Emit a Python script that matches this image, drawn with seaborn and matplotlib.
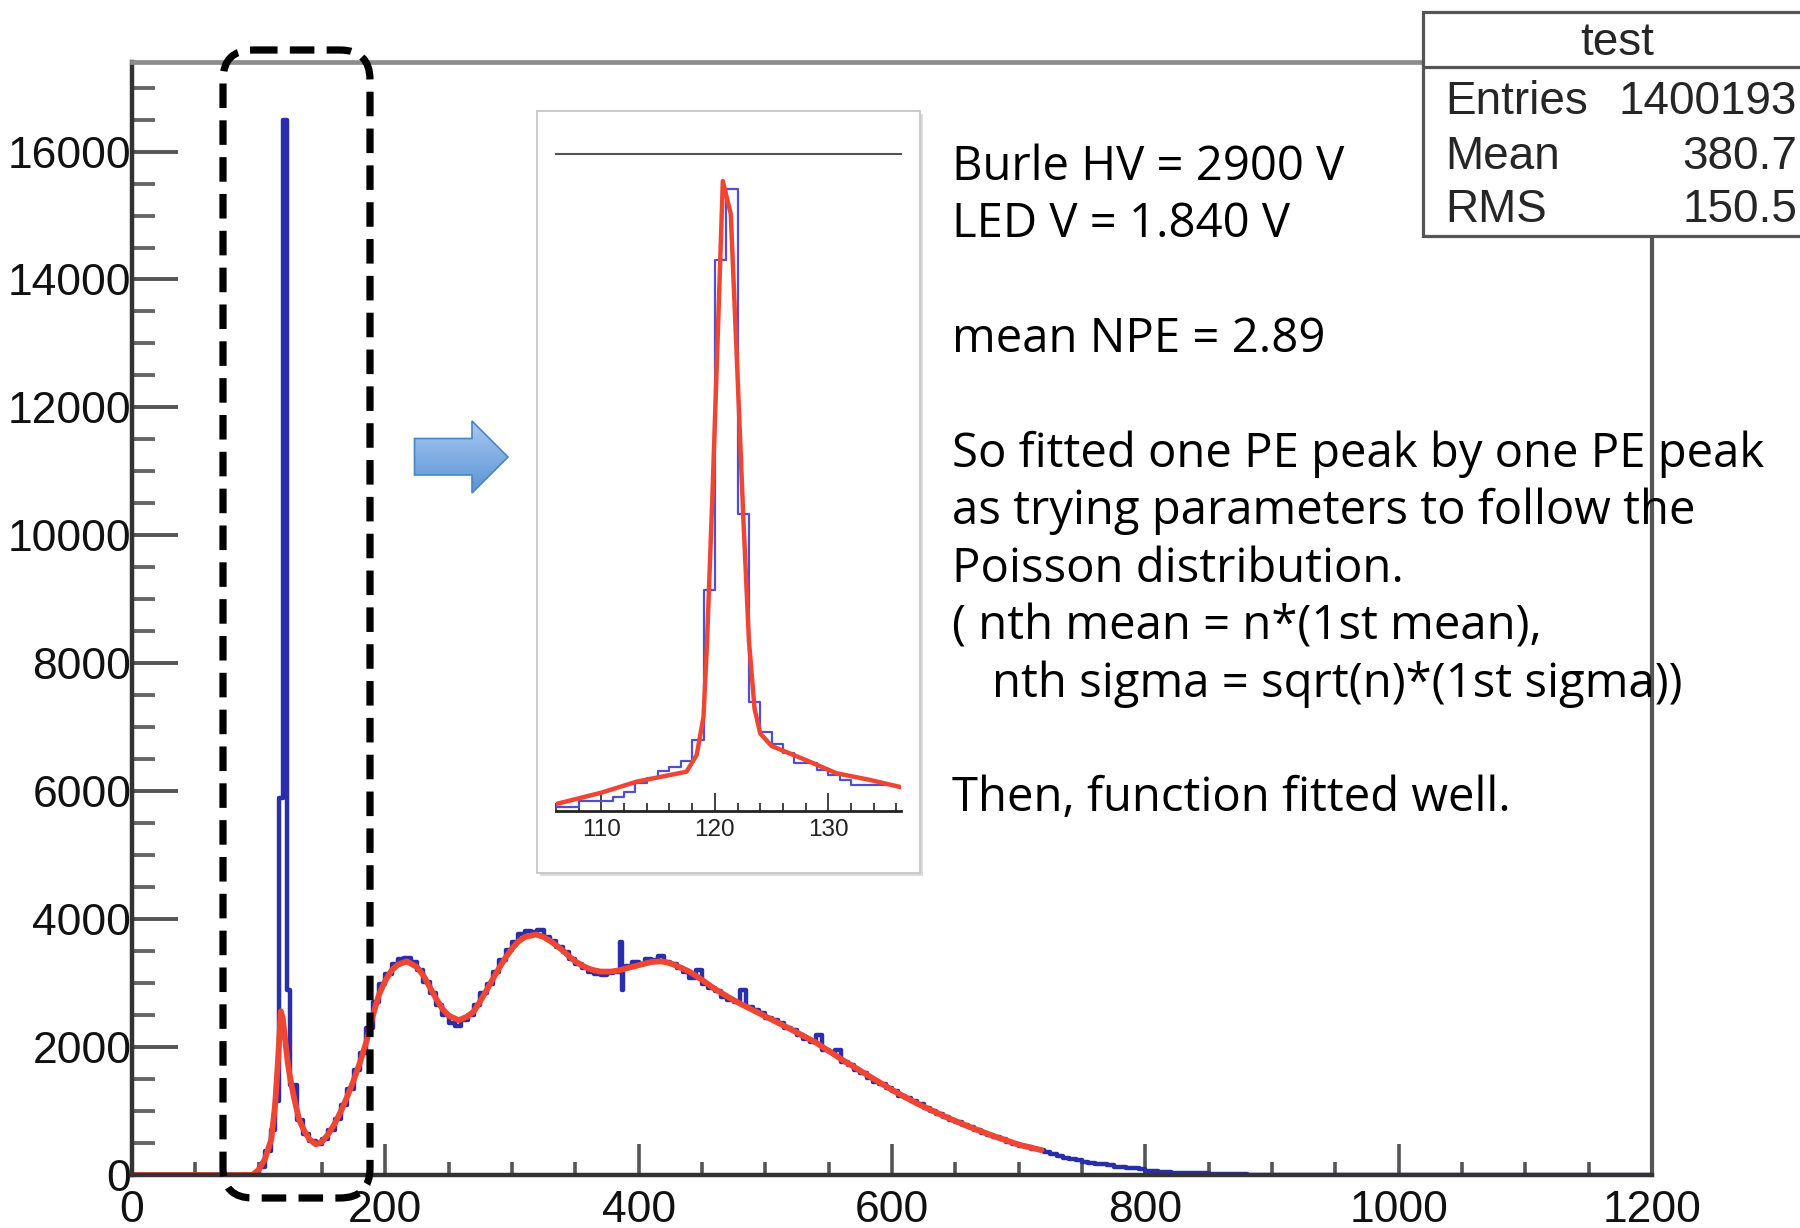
import numpy as np
import pandas as pd
import matplotlib
matplotlib.use("Agg")
import matplotlib.pyplot as plt
import seaborn as sns
from matplotlib.patches import FancyBboxPatch, Rectangle, Polygon
from matplotlib.ticker import MultipleLocator, FixedLocator
from matplotlib.colors import LinearSegmentedColormap

# ---------------- data ----------------
# main histogram: explicit edges near the spike / glitch, 5-wide bins elsewhere
blue_head_edges = [0, 100, 105, 110, 113, 116, 119, 122, 125]
blue_head_counts = [0, 120, 380, 700, 1150, 5900, 16500, 2900]

blue_seg1_start = 125  # 5-wide bins 125 .. 380
blue_seg1_counts = [1400, 860, 640, 530, 480, 560, 700, 880, 1100, 1340,
                    1640, 1900, 2300, 2700, 2980, 3150, 3300, 3380, 3400, 3330,
                    3200, 3010, 2850, 2660, 2500, 2380, 2330, 2420, 2500, 2660,
                    2840, 2980, 3180, 3360, 3520, 3640, 3760, 3820, 3800, 3830,
                    3720, 3660, 3560, 3480, 3370, 3300, 3240, 3180, 3140, 3130,
                    3160]

blue_glitch_edges = [380, 385, 386.5, 388, 390]
blue_glitch_counts = [3170, 3650, 2900, 3250]

blue_seg2_start = 390  # 5-wide bins 390 .. 900
blue_seg2_counts = [3260, 3330, 3300, 3380, 3360, 3420, 3330, 3300, 3230, 3180,
                    3080, 3200, 2990, 2920, 2880, 2780, 2740, 2700, 2900, 2620,
                    2580, 2540, 2460, 2420, 2370, 2300, 2260, 2190, 2130, 2080,
                    2190, 1960, 1920, 1950, 1760, 1720, 1640, 1600, 1520, 1460,
                    1420, 1360, 1320, 1240, 1200, 1150, 1110, 1040, 1000, 960,
                    910, 860, 830, 780, 750, 700, 660, 630, 590, 560,
                    520, 490, 460, 440, 400, 390, 360, 330, 300, 270,
                    250, 235, 200, 190, 175, 170, 150, 130, 120, 110,
                    115, 90, 70, 60, 48, 42, 35, 32, 30, 28,
                    28, 24, 20, 18, 16, 12, 10, 8, 5, 3,
                    2, 0]

blue_tail_edges = [900, 1200]
blue_tail_counts = [0]

# fitted function (main)
fit_x = [0, 95, 100, 105, 110, 113, 115, 117.5, 119, 121, 123, 125, 128, 132,
         136, 140, 145, 150, 155, 160, 165, 170, 175, 180, 185, 190, 195, 200,
         205, 210, 217, 225, 230, 235, 240, 245, 250, 258, 265, 270, 275, 280,
         285, 290, 295, 300, 305, 310, 319, 325, 330, 335, 340, 345, 350, 355,
         360, 365, 370, 378, 385, 390, 400, 410, 418, 425, 430, 440, 450, 460,
         470, 480, 490, 500, 520, 540, 560, 580, 600, 620, 640, 660, 680, 700,
         718]
fit_y = [0, 0, 80, 250, 560, 1100, 1700, 2560, 2450, 2100, 1750, 1500, 1200,
         860, 690, 560, 480, 520, 640, 800, 1000, 1230, 1480, 1760, 2080, 2480,
         2820, 3040, 3200, 3290, 3340, 3250, 3120, 2940, 2760, 2600, 2490, 2420,
         2480, 2560, 2720, 2890, 3070, 3240, 3400, 3540, 3650, 3720, 3760, 3720,
         3660, 3590, 3510, 3420, 3340, 3280, 3230, 3200, 3180, 3180, 3200, 3230,
         3280, 3330, 3340, 3310, 3270, 3180, 3050, 2910, 2790, 2680, 2580, 2480,
         2280, 2070, 1810, 1570, 1330, 1115, 930, 760, 610, 475, 390]

# inset (zoom of the one-PE peak)
inset_edges = [106, 107, 108, 109, 110, 111, 112, 113, 114, 115, 116, 117, 118,
               119, 120, 121, 122, 123, 124, 125, 126, 127, 128, 129, 130, 131,
               132, 133, 134, 135, 136]
inset_counts = [115, 115, 265, 265, 265, 380, 512, 733, 883, 1068, 1174, 1324,
                1880, 5855, 14570, 16470, 7850, 2880, 2100, 1774, 1527, 1280,
                1262, 1086, 953, 821, 688, 688, 688, 688]
inset_fit_x = [106, 110, 113.1, 117.5, 118.4, 119.0, 119.3, 119.8, 120.2, 120.7,
               121.4, 122.0, 122.5, 123.0, 123.5, 124.0, 125, 128, 130.7, 133.7,
               136.4]
inset_fit_y = [185, 485, 776, 1040, 1483, 2500, 4400, 8500, 12100, 16670, 15800,
               11500, 7800, 4500, 2700, 2050, 1720, 1350, 1000, 820, 630]

xtick_vals = [0, 200, 400, 600, 800, 1000, 1200]
xtick_labels = ["0", "200", "400", "600", "800", "1000", "1200"]
ytick_vals = [0, 2000, 4000, 6000, 8000, 10000, 12000, 14000, 16000]
ytick_labels = ["0", "2000", "4000", "6000", "8000", "10000", "12000", "14000", "16000"]
inset_tick_vals = [110, 120, 130]
inset_tick_labels = ["110", "120", "130"]

stats_title = "test"
stats_names = ["Entries", "Mean", "RMS"]
stats_values = ["1400193", "380.7", "150.5"]

note_lines = ["Burle HV = 2900 V", "LED V = 1.840 V", "mean NPE = 2.89",
              "So fitted one PE peak by one PE peak",
              "as trying parameters to follow the",
              "Poisson distribution.",
              "( nth mean = n*(1st mean),",
              "nth sigma = sqrt(n)*(1st sigma))",
              "Then, function fitted well."]

# ---------------- assemble bins ----------------
seg1_edges = blue_seg1_start + 5 * np.arange(len(blue_seg1_counts) + 1)
seg2_edges = blue_seg2_start + 5 * np.arange(len(blue_seg2_counts) + 1)
edges = np.concatenate([blue_head_edges[:-1], seg1_edges[:-1], blue_glitch_edges[:-1],
                        seg2_edges[:-1], blue_tail_edges]).astype(float)
counts = np.array(blue_head_counts + blue_seg1_counts + blue_glitch_counts
                  + blue_seg2_counts + blue_tail_counts, dtype=float)
main_df = pd.DataFrame({"x": (edges[:-1] + edges[1:]) / 2, "w": counts})

iedges = np.array(inset_edges, dtype=float)
inset_df = pd.DataFrame({"x": (iedges[:-1] + iedges[1:]) / 2,
                         "w": np.array(inset_counts, dtype=float)})

# ---------------- style ----------------
sns.set_style("white")
plt.rcParams['font.family'] = ['Liberation Sans', 'DejaVu Sans']
NOTE_FONT = ['Open Sans', 'DejaVu Sans']
BLUE = '#2a2eaa'
RED = '#ef4634'

W, H = 1800, 1228
fig = plt.figure(figsize=(18, 12.28), dpi=100)


def fx(px):
    return px / W


def fy(py):
    return 1 - py / H


# ---------------- main axes ----------------
ax = fig.add_axes([fx(132), fy(1175), fx(1652) - fx(132), fy(62) - fy(1175)], zorder=1)
sns.histplot(data=main_df, x="x", weights="w", bins=list(edges), element='step', fill=False,
             color=BLUE, linewidth=3.2, ax=ax)
sns.lineplot(x=fit_x, y=fit_y, color=RED, linewidth=4.2, ax=ax, estimator=None, sort=False)
ax.set_xlim(0, 1200)
ax.set_ylim(0, 17400)
ax.set_xlabel('')
ax.set_ylabel('')
ax.xaxis.set_major_locator(FixedLocator(xtick_vals))
ax.set_xticklabels(xtick_labels)
ax.xaxis.set_minor_locator(MultipleLocator(50))
ax.yaxis.set_major_locator(FixedLocator(ytick_vals))
ax.set_yticklabels(ytick_labels)
ax.yaxis.set_minor_locator(MultipleLocator(500))
ax.tick_params(axis='x', which='both', bottom=True, top=False)
ax.tick_params(axis='y', which='both', left=True, right=False)
ax.tick_params(axis='x', which='major', direction='in', length=22, width=2.6,
               color='#555555', pad=11, labelsize=32, labelcolor='#111111')
ax.tick_params(axis='x', which='minor', direction='in', length=9.5, width=2.6, color='#555555')
ax.tick_params(axis='y', which='major', direction='in', length=33, width=2.8,
               color='#555555', pad=0.5, labelsize=32, labelcolor='#111111')
ax.tick_params(axis='y', which='minor', direction='in', length=16.5, width=2.8, color='#666666')
for s in ['left', 'bottom']:
    ax.spines[s].set_color('#333333')
    ax.spines[s].set_linewidth(3.2)
ax.spines['top'].set_color('#8c8c8c')
ax.spines['top'].set_linewidth(3.4)
ax.spines['right'].set_color('#555555')
ax.spines['right'].set_linewidth(3.0)
ax.grid(False)

# ---------------- overlay (pixel coordinates) ----------------
ov = fig.add_axes([0, 0, 1, 1], zorder=2)
ov.set_xlim(0, W)
ov.set_ylim(H, 0)
ov.axis('off')

# inset frame with faint shadow
ov.add_patch(Rectangle((540, 114), 383, 762, facecolor='#dcdcdc', edgecolor='none'))
ov.add_patch(Rectangle((537, 111), 383, 762, facecolor='white', edgecolor='#c2c2c2', linewidth=1.2))

# dashed rounded rectangle
ov.add_patch(FancyBboxPatch((223, 50), 147, 1148, boxstyle="round,pad=0,rounding_size=30",
                            fill=False, edgecolor='black', linewidth=5.2,
                            linestyle=(0, (3.4, 1.7)), capstyle='butt'))

# gradient arrow
arrow_pts = [(414.5, 438.5), (472, 438.5), (472, 421), (508, 457), (472, 493),
             (472, 475), (414.5, 475)]
arrow = Polygon(arrow_pts, closed=True, facecolor='none', edgecolor='#4a84c4', linewidth=1.2, zorder=4)
ov.add_patch(arrow)
cmap = LinearSegmentedColormap.from_list('arr', ['#a7c9f3', '#5b93d3'])
im = ov.imshow(np.linspace(0, 1, 100).reshape(-1, 1), extent=(414, 509, 493, 421),
               cmap=cmap, aspect='auto', origin='upper', zorder=3)
im.set_clip_path(arrow)
ov.set_xlim(0, W)
ov.set_ylim(H, 0)
ov.set_aspect('auto')

# notes
note_x = [952, 952, 952, 952, 952, 952, 952, 992, 952]
note_base = [180, 237.4, 352.2, 467, 524.4, 581.8, 639.2, 696.6, 811.4]
for t, x0, y0 in zip(note_lines, note_x, note_base):
    ov.text(x0, y0, t, fontsize=34, family=NOTE_FONT, va='baseline', ha='left', color='black')

# stats box
ov.add_patch(Rectangle((1423, 12), 500, 224, facecolor='white', edgecolor='#555555',
                       linewidth=2.3, zorder=5))
ov.plot([1423, 1800], [67, 67], color='#555555', linewidth=2.3, zorder=6)
ov.text(1617, 55, stats_title, ha='center', va='baseline', fontsize=33, zorder=7)
for name, val, yb in zip(stats_names, stats_values, [113.5, 169, 222]):
    ov.text(1445, yb, name, ha='left', va='baseline', fontsize=33, zorder=7)
    ov.text(1797, yb, val, ha='right', va='baseline', fontsize=33, zorder=7)

# ---------------- inset axes ----------------
iax = fig.add_axes([fx(556), fy(811), fx(901) - fx(556), fy(153.5) - fy(811)], zorder=3)
iax.set_facecolor('white')
sns.histplot(data=inset_df, x="x", weights="w", bins=list(iedges), element='step', fill=False,
             color='#4f4fcf', linewidth=1.6, ax=iax)
sns.lineplot(x=inset_fit_x, y=inset_fit_y, color=RED, linewidth=3.2, ax=iax,
             estimator=None, sort=False)
iax.set_xlim(106, 136.4)
iax.set_ylim(0, 17400)
iax.set_xlabel('')
iax.set_ylabel('')
iax.set_yticks([])
iax.xaxis.set_major_locator(FixedLocator(inset_tick_vals))
iax.set_xticklabels(inset_tick_labels)
iax.xaxis.set_minor_locator(MultipleLocator(2))
iax.tick_params(axis='x', which='both', bottom=True, top=False)
iax.tick_params(axis='x', which='major', direction='in', length=13, width=1.3,
                color='#333333', pad=6, labelsize=17.5, labelcolor='#222222')
iax.tick_params(axis='x', which='minor', direction='in', length=5.8, width=1.3, color='#333333')
iax.spines['left'].set_visible(False)
iax.spines['right'].set_visible(False)
iax.spines['top'].set_color('#555555')
iax.spines['top'].set_linewidth(1.5)
iax.spines['bottom'].set_color('#222222')
iax.spines['bottom'].set_linewidth(2.0)
iax.grid(False)

fig.savefig('out.png', dpi=100)
